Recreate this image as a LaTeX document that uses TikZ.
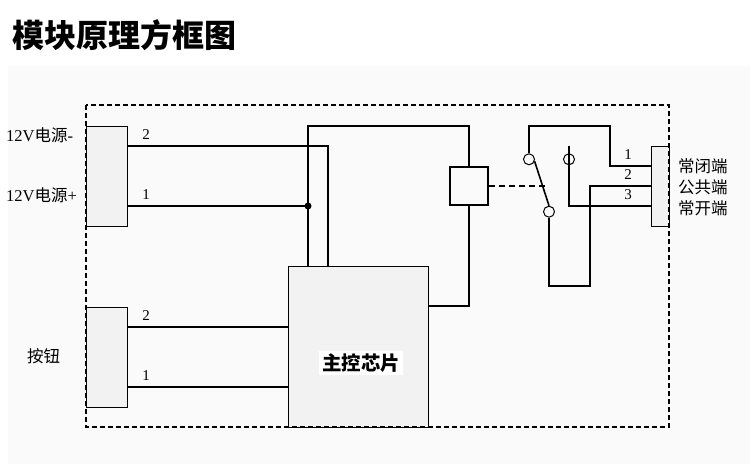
\documentclass[tikz,border=0pt]{standalone}
\usepackage{fontspec}
\setmainfont{Liberation Serif}
\newfontfamily\cjk{Noto Sans CJK SC}
\definecolor{boxgray}{RGB}{242,242,242}
\definecolor{paper}{RGB}{250,250,250}
\newcommand{\zh}[1]{{\cjk #1}}

\begin{document}
\begin{tikzpicture}[x=1pt,y=-1pt,
    wire/.style={line width=2.4pt},
    jack/.style={draw, line width=0.8pt, fill=boxgray, inner sep=0pt, minimum width=41pt, minimum height=100pt},
    contact/.style={draw, circle, line width=1pt, inner sep=0pt, minimum size=11pt},
    num/.style={font=\fontsize{15}{15}\selectfont},
    lbl/.style={font=\fontsize{16.5}{18}\selectfont, inner sep=0pt}]
    \useasboundingbox (0,0) rectangle (750,464);
    \fill[white] (0,0) rectangle (750,464);
    \fill[paper] (8,66) rectangle (750,464);

    \node[anchor=west, font=\fontsize{32}{32}\selectfont\cjk\bfseries] (title) at (9,35) {模块原理方框图};

    % boxes
    \node[jack] (pwr) at (106.5,176) {};
    \node[jack] (btn) at (106.5,357) {};
    \node[jack, minimum width=18pt, minimum height=80pt] (out) at (660,186) {};
    \node[draw, line width=0.8pt, fill=boxgray, minimum width=140pt, minimum height=161pt] (chip) at (358,346.5) {};
    \node[fill=white, inner sep=3pt, font=\fontsize{19.5}{20}\selectfont\cjk\bfseries] (chiptxt) at (361,363) {主控芯片};
    \node[draw, line width=2.4pt, minimum size=38pt, inner sep=0pt] (coil) at (469,186) {};

    % switch contacts
    \node[contact] (nc) at (529,159.3) {};
    \node[contact] (com) at (549,211.7) {};
    \node[contact] (no) at (569,159.3) {};
    \coordinate (lever) at (549,186);
    \coordinate (j1) at (308,206);

    % supply
    \draw[wire] ([yshift=30pt]pwr.east) -| ([xshift=-30pt]chip.north);
    \draw[wire] ([yshift=-30pt]pwr.east) -- (j1);
    \draw[wire] ([xshift=-50pt]chip.north) |- ([yshift=40pt]coil.north) -- (coil.north);
    \fill (j1) circle (3.5pt);
    \draw[wire] (coil.south) |- ([yshift=40.5pt]chip.east);

    % button
    \draw[wire] ([yshift=30pt]btn.east) -- ([yshift=30pt]btn.east -| chip.west);
    \draw[wire] ([yshift=-30pt]btn.east) -- ([yshift=-30pt]btn.east -| chip.west);

    % relay
    \draw[wire, dashed, dash pattern=on 6pt off 4pt] (coil.east) -- (lever);
    \draw[line width=1.6pt] (nc.-20) -- (com.north);
    \draw[wire] (nc.north) |- (610,126) |- ([yshift=20pt]out.west);
    \draw[wire] (com.south) |- (590,286) |- (out.west);
    \draw[wire] ([yshift=13pt]no.center) |- ([yshift=-20pt]out.west);

    \draw[line width=1.8pt, dash pattern=on 5pt off 3pt] (86,105) rectangle (669,427);

    % labels
    \node[num] (pa2) at (146,135) {2};
    \node[num] (pa1) at (146,195) {1};
    \node[num] (pb2) at (146,316) {2};
    \node[num] (pb1) at (146,376) {1};
    \node[num] (pc1) at (628,155) {1};
    \node[num] (pc2) at (628,175) {2};
    \node[num] (pc3) at (628,195) {3};
    \node[lbl, anchor=west] (vneg) at (6,135) {12V\zh{电源}-};
    \node[lbl, anchor=west] (vpos) at (6,195) {12V\zh{电源}+};
    \node[lbl, anchor=west] (key) at (27,356) {\zh{按钮}};
    \node[lbl, anchor=west] (lnc) at (678,166) {\zh{常闭端}};
    \node[lbl, anchor=west] (lcom) at (678,187) {\zh{公共端}};
    \node[lbl, anchor=west] (lno) at (678,208) {\zh{常开端}};
\end{tikzpicture}
\end{document}
